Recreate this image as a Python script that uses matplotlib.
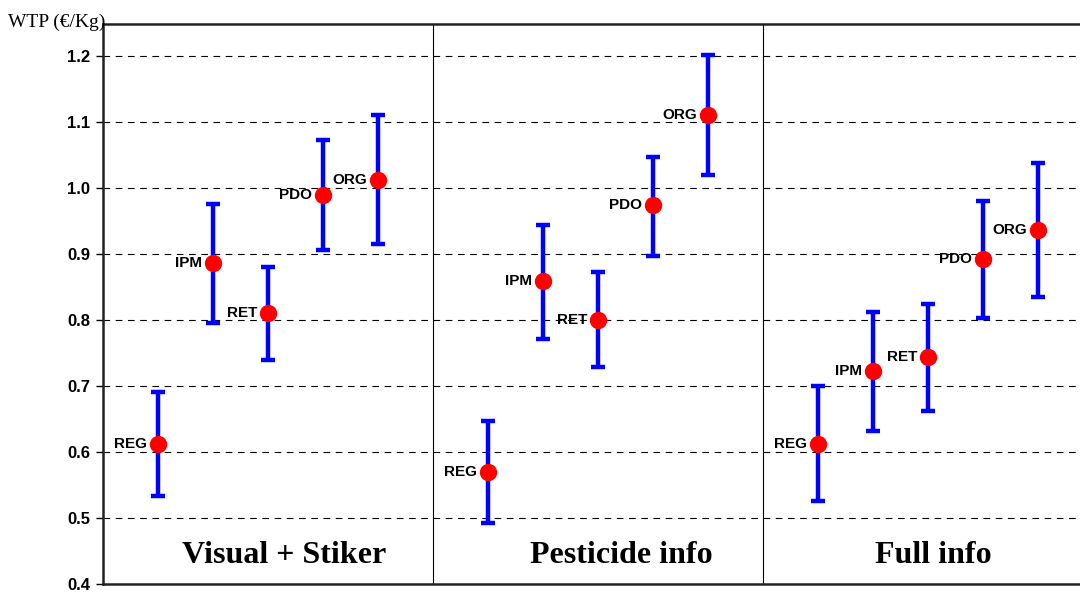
import numpy as np
import matplotlib
matplotlib.use('Agg')
import matplotlib.pyplot as plt

# products and the three information treatments
products = ['REG', 'IPM', 'RET', 'PDO', 'ORG']
groups = ['Visual + Stiker', 'Pesticide info', 'Full info']

# mean WTP and confidence bounds, one list per treatment
mean_visual = [0.612, 0.886, 0.811, 0.989, 1.012]
low_visual = [0.533, 0.796, 0.739, 0.906, 0.915]
high_visual = [0.691, 0.976, 0.880, 1.073, 1.111]

mean_pest = [0.570, 0.859, 0.800, 0.974, 1.111]
low_pest = [0.492, 0.771, 0.729, 0.898, 1.020]
high_pest = [0.647, 0.945, 0.873, 1.048, 1.202]

mean_full = [0.612, 0.723, 0.744, 0.892, 0.936]
low_full = [0.526, 0.632, 0.662, 0.803, 0.835]
high_full = [0.700, 0.812, 0.824, 0.980, 1.038]

means = [mean_visual, mean_pest, mean_full]
lows = [low_visual, low_pest, low_full]
highs = [high_visual, high_pest, high_full]

# small nudges so the panel titles sit where they do in the original
title_shift = [0.3, 0.43, 0.1]

fig = plt.figure(figsize=(10.8, 5.92), dpi=100)
ax = fig.add_axes([103/1080, 8/592, 990/1080, 560/592])

for g in range(3):
    xs = np.arange(1, 6) + 6*g
    m = np.array(means[g])
    lo = m - np.array(lows[g])
    hi = np.array(highs[g]) - m
    ax.errorbar(xs, m, yerr=[lo, hi], fmt='o', color='#0000ff', ecolor='#0000ff',
                elinewidth=3.2, capsize=5, capthick=3.2, markersize=11.5,
                markerfacecolor='#ff0000', markeredgecolor='#ff0000', zorder=3)
    for x, y, p in zip(xs, m, products):
        ax.text(x - 0.2, y, p, ha='right', va='center', fontsize=11,
                fontweight='bold', family='Liberation Sans')
    ax.text(xs[2] + title_shift[g], 0.432, groups[g], ha='center', va='baseline',
            fontsize=23, fontweight='bold', family='Liberation Serif')
    if g > 0:
        ax.axvline(6*g, color='black', lw=0.8, zorder=1)

ax.set_xlim(0, 18)
ax.set_ylim(0.4, 1.249)
ax.set_yticks(np.arange(0.4, 1.21, 0.1))
ax.set_yticklabels(['%.1f' % v for v in np.arange(0.4, 1.21, 0.1)],
                   fontsize=12, fontweight='bold', family='Liberation Sans')
ax.set_xticks([])
ax.tick_params(axis='y', length=5, width=1, direction='out', pad=4)
for v in np.arange(0.5, 1.21, 0.1):
    ax.axhline(v, color='black', lw=0.8, ls=(0, (6, 5)), zorder=0)

ax.spines['right'].set_visible(False)
for s in ['left', 'bottom', 'top']:
    ax.spines[s].set_linewidth(1.8)
    ax.spines[s].set_color('#222222')

fig.text(8/1080, 1 - 22/592, 'WTP (€/Kg)', fontsize=14, family='Liberation Serif',
         va='center', ha='left')

fig.savefig('out.png', dpi=100)
